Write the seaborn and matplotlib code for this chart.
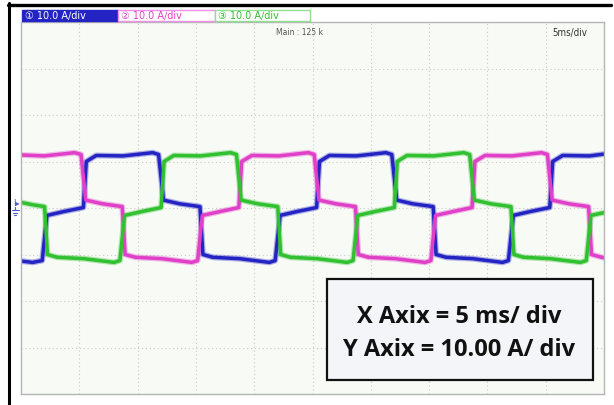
import matplotlib
matplotlib.use("Agg")
import matplotlib.pyplot as plt
from matplotlib.patches import Rectangle
from matplotlib.lines import Line2D
import pandas as pd
import seaborn as sns

# ---- phase currents: (time in ms, current in A) breakpoints ----
t_ch1 = [0.0, 1.0, 1.82, 2.22, 3.6, 5.35, 5.6, 6.45, 8.75, 11.3, 11.8,
         12.22, 13.6, 15.35, 15.6, 16.45, 18.75, 21.3, 21.8,
         22.22, 23.6, 25.35, 25.6, 26.45, 28.75, 31.3, 31.8,
         32.22, 33.6, 35.35, 35.6, 36.45, 38.75, 41.3, 41.8,
         42.22, 43.6, 45.35, 45.6, 46.45, 48.75, 50.0]
i_ch1 = [-11.4, -11.7, -11.3, -1.6, -0.8, 0.1, 10.0, 11.3, 11.2, 11.9, 11.5,
         1.7, 0.9, 0.3, -10.0, -10.6, -10.9, -11.7, -11.3,
         -1.6, -0.8, 0.1, 10.0, 11.3, 11.2, 11.9, 11.5,
         1.7, 0.9, 0.3, -10.0, -10.6, -10.9, -11.7, -11.3,
         -1.6, -0.8, 0.1, 10.0, 11.3, 11.2, 11.6]

t_ch2 = [0.0, 2.0, 4.6, 5.15, 5.55, 7.0, 8.68, 8.93, 9.8, 12.1, 14.65, 15.15,
         15.55, 17.0, 18.68, 18.93, 19.8, 22.1, 24.65, 25.15,
         25.55, 27.0, 28.68, 28.93, 29.8, 32.1, 34.65, 35.15,
         35.55, 37.0, 38.68, 38.93, 39.8, 42.1, 44.65, 45.15,
         45.55, 47.0, 48.68, 48.93, 49.8, 50.0]
i_ch2 = [11.4, 11.2, 11.9, 11.5, 1.7, 0.9, 0.3, -10.0, -10.6, -10.9, -11.7, -11.3,
         -1.6, -0.8, 0.1, 10.0, 11.3, 11.2, 11.9, 11.5,
         1.7, 0.9, 0.3, -10.0, -10.6, -10.9, -11.7, -11.3,
         -1.6, -0.8, 0.1, 10.0, 11.3, 11.2, 11.9, 11.5,
         1.7, 0.9, 0.3, -10.0, -10.6, -10.7]

t_ch3 = [0.0, 1.0, 2.02, 2.27, 3.1, 5.4, 7.98, 8.48,
         8.88, 10.3, 12.02, 12.27, 13.1, 15.4, 17.98, 18.48,
         18.88, 20.3, 22.02, 22.27, 23.1, 25.4, 27.98, 28.48,
         28.88, 30.3, 32.02, 32.27, 33.1, 35.4, 37.98, 38.48,
         38.88, 40.3, 42.02, 42.27, 43.1, 45.4, 47.98, 48.48,
         48.88, 50.0]
i_ch3 = [1.2, 0.7, 0.3, -10.0, -10.6, -10.9, -11.7, -11.3,
         -1.6, -0.8, 0.1, 10.0, 11.3, 11.2, 11.9, 11.5,
         1.7, 0.9, 0.3, -10.0, -10.6, -10.9, -11.7, -11.3,
         -1.6, -0.8, 0.1, 10.0, 11.3, 11.2, 11.9, 11.5,
         1.7, 0.9, 0.3, -10.0, -10.6, -10.9, -11.7, -11.3,
         -1.6, -1.0]

channels = ["CH1", "CH2", "CH3"]
channel_colors = {"CH1": "#2424c4", "CH2": "#e040c8", "CH3": "#30c030"}
header_labels = ["\u2460 10.0 A\u2215div", "\u2461 10.0 A\u2215div", "\u2462 10.0 A\u2215div"]

time_per_div = 5      # ms
amp_per_div = 10      # A
n_xdiv, n_ydiv = 10, 8

frames = []
for name, tt, ii in zip(channels, [t_ch1, t_ch2, t_ch3], [i_ch1, i_ch2, i_ch3]):
    frames.append(pd.DataFrame({"t": tt, "i": ii, "ch": name}))
df = pd.concat(frames, ignore_index=True)

sns.set_theme(style="white")
plt.rcParams["font.family"] = ["DejaVu Sans"]

W, H = 614, 405
fig = plt.figure(figsize=(W / 100, H / 100), dpi=100)
fig.patch.set_facecolor("white")


def fx(x):
    return x / W


def fy(y):
    return 1 - y / H


ax_l, ax_r, ax_t, ax_b = 21, 604, 22, 394
ax = fig.add_axes([fx(ax_l), fy(ax_b), fx(ax_r - ax_l), (ax_b - ax_t) / H])
ax.set_facecolor("#f7faf5")

# soft halo under each trace, then the trace itself
for lw, alpha in [(4.2, 0.35), (2.5, 1.0)]:
    sns.lineplot(data=df, x="t", y="i", hue="ch", palette=channel_colors,
                 estimator=None, sort=False, lw=lw, alpha=alpha,
                 legend=False, ax=ax)

ax.set_xlim(0, n_xdiv * time_per_div)
ax.set_ylim(-n_ydiv / 2 * amp_per_div, n_ydiv / 2 * amp_per_div)
ax.set_xticks([k * time_per_div for k in range(1, n_xdiv)])
ax.set_yticks([(k - n_ydiv // 2) * amp_per_div for k in range(1, n_ydiv)])
ax.tick_params(length=0, labelbottom=False, labelleft=False)
ax.set_xlabel("")
ax.set_ylabel("")
ax.grid(True, color="#c9cbc9", lw=0.8, ls=(0, (1, 2.5)))
for sp in ax.spines.values():
    sp.set_color("#b4b6b4")
    sp.set_linewidth(1.0)

ax.text((300 - ax_l) / (ax_r - ax_l), 0.985, "Main : 125 k", transform=ax.transAxes,
        ha="center", va="top", fontsize=5.5, color="#555555")
ax.text((570 - ax_l) / (ax_r - ax_l), 0.985, "5ms/div", transform=ax.transAxes,
        ha="center", va="top", fontsize=7, color="#333333", fontstretch="condensed")

# outer black frame (left and top)
fig.add_artist(Line2D([fx(9), fx(9)], [fy(3), 0], color="black", lw=2.2))
fig.add_artist(Line2D([fx(8), fx(611)], [fy(4.5), fy(4.5)], color="black", lw=2.4))

# channel header boxes
hdr = [(22, 118, True), (118, 215, False), (215, 310, False)]
edges = {"CH1": "#2424c4", "CH2": "#ee90e8", "CH3": "#8fe08f"}
for (x0, x1, filled), name, lab in zip(hdr, channels, header_labels):
    c = channel_colors[name]
    fig.add_artist(Rectangle((fx(x0), fy(21)), fx(x1 - x0), 11 / H,
                             facecolor=c if filled else "white",
                             edgecolor=edges[name], lw=1.0))
    fig.text(fx(x0 + 3), fy(15.5), lab, fontsize=7, va="center", ha="left",
             color="white" if filled else c)

# ground reference marker: "I" with arrow, then the earth symbol drawn as strokes
mk = "#4a5ad0"
fig.text(fx(16), fy(203), "I\u25b8", fontsize=6, color=mk, ha="center", va="center")
fig.add_artist(Line2D([fx(15), fx(15)], [fy(207), fy(210)], color=mk, lw=0.8))
for yy, half in [(210, 3.5), (212.5, 2.4), (215, 1.2)]:
    fig.add_artist(Line2D([fx(15 - half), fx(15 + half)], [fy(yy), fy(yy)], color=mk, lw=0.8))

# scale note box
bx0, bx1, by0, by1 = 327, 593, 279, 380
fig.add_artist(Rectangle((fx(bx0), fy(by1)), fx(bx1 - bx0), (by1 - by0) / H,
                         facecolor="#f4f5f9", edgecolor="#111111", lw=1.6, zorder=5))
cx = fx(459)
fig.text(cx, fy(322.7), "X Axix = 5 ms/ div", fontsize=17, fontweight="bold",
         family=["Open Sans", "DejaVu Sans"], ha="center", va="baseline", color="#111111", zorder=6)
fig.text(cx, fy(355.5), "Y Axix = 10.00 A/ div", fontsize=17, fontweight="bold",
         family=["Open Sans", "DejaVu Sans"], ha="center", va="baseline", color="#111111", zorder=6)

fig.savefig("out.png", dpi=100)
